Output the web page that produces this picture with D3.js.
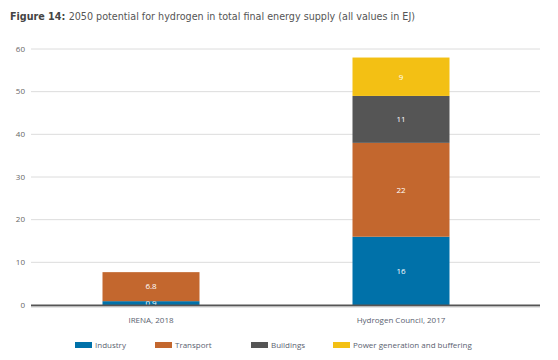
<!DOCTYPE html>
<html>
<head>
<meta charset="utf-8">
<script src="https://cdn.jsdelivr.net/npm/d3@7"></script>
<style>
  body { margin: 0; background: #fff; }
  svg { font-family: "Open Sans", Lato, sans-serif; }
</style>
</head>
<body>
<svg id="chart" width="558" height="360"></svg>
<script>
/* data */
var categories = ['IRENA, 2018', 'Hydrogen Council, 2017'];
var seriesNames = ['Industry', 'Transport', 'Buildings', 'Power generation and buffering'];
var industry = [0.9, 16];
var transport = [6.8, 22];
var buildings = [0, 11];
var power = [0, 9];
var yTicks = [0, 10, 20, 30, 40, 50, 60];

var colors = ['#0071a9', '#c3672e', '#555555', '#f3c014'];
var seriesValues = [industry, transport, buildings, power];

var svg = d3.select('#chart');

var plot = { left: 31, right: 540, top: 49, bottom: 305 };

var x = d3.scaleBand()
    .domain(categories)
    .range([26, 526])
    .paddingInner(0.612)
    .paddingOuter(0.306);

var y = d3.scaleLinear()
    .domain([0, 60])
    .range([plot.bottom, plot.top]);

// title
var title = svg.append('text')
    .attr('x', 10)
    .attr('y', 20)
    .style('font-family', '"DejaVu Sans", sans-serif')
    .style('font-size', '9.6px')
    .style('fill', '#555');
title.append('tspan').text('Figure 14: ')
    .style('font-weight', 'bold')
    .style('fill', '#444');
title.append('tspan').text('2050 potential for hydrogen in total final energy supply (all values in EJ)');

// gridlines
svg.append('g').selectAll('line')
    .data(yTicks.filter(function(d) { return d > 0; }))
    .enter().append('line')
    .attr('x1', plot.left)
    .attr('x2', plot.right)
    .attr('y1', function(d) { return y(d); })
    .attr('y2', function(d) { return y(d); })
    .style('stroke', '#dcdcdc')
    .style('stroke-width', 1);

// y labels
svg.append('g').selectAll('text')
    .data(yTicks)
    .enter().append('text')
    .attr('x', 25)
    .attr('y', function(d) { return y(d); })
    .attr('dy', '0.35em')
    .style('text-anchor', 'end')
    .style('font-size', '8px')
    .style('fill', '#666')
    .text(function(d) { return d; });

// stacked bars
var rows = categories.map(function(c, i) {
    var r = { cat: c };
    seriesNames.forEach(function(s, j) { r[s] = seriesValues[j][i]; });
    return r;
});
var stacked = d3.stack().keys(seriesNames)(rows);

var layers = svg.append('g').selectAll('g')
    .data(stacked)
    .enter().append('g')
    .style('fill', function(d, i) { return colors[i]; });

layers.selectAll('rect')
    .data(function(d) { return d; })
    .enter().append('rect')
    .attr('x', function(d) { return x(d.data.cat); })
    .attr('width', x.bandwidth())
    .attr('y', function(d) { return y(d[1]); })
    .attr('height', function(d) { return y(d[0]) - y(d[1]); });

// baseline
svg.append('line')
    .attr('x1', plot.left).attr('x2', plot.right)
    .attr('y1', y(0) + 0.5).attr('y2', y(0) + 0.5)
    .style('stroke', '#555')
    .style('stroke-width', 2);
svg.append('line')
    .attr('x1', plot.left).attr('x2', plot.right)
    .attr('y1', y(0) + 2).attr('y2', y(0) + 2)
    .style('stroke', '#ccc')
    .style('stroke-width', 1);

// value labels
layers.selectAll('text')
    .data(function(d) { return d.filter(function(p) { return p[1] - p[0] > 0; }); })
    .enter().append('text')
    .attr('x', function(d) { return x(d.data.cat) + x.bandwidth() / 2; })
    .attr('y', function(d) { return y((d[0] + d[1]) / 2); })
    .attr('dy', '0.35em')
    .style('text-anchor', 'middle')
    .style('font-size', '8px')
    .style('fill', '#fff')
    .text(function(d) { return +(d[1] - d[0]).toFixed(1); });

// category labels
svg.append('g').selectAll('text')
    .data(categories)
    .enter().append('text')
    .attr('x', function(d) { return x(d) + x.bandwidth() / 2; })
    .attr('y', 323)
    .style('text-anchor', 'middle')
    .style('font-size', '8px')
    .style('fill', '#5a6270')
    .text(function(d) { return d; });

// legend
var legendX = [75, 155, 251, 333];
var legend = svg.append('g').selectAll('g')
    .data(seriesNames)
    .enter().append('g')
    .attr('transform', function(d, i) { return 'translate(' + legendX[i] + ',342)'; });

legend.append('rect')
    .attr('width', 17)
    .attr('height', 6)
    .style('fill', function(d, i) { return colors[i]; });

legend.append('text')
    .attr('x', 20)
    .attr('y', 3)
    .attr('dy', '0.35em')
    .style('font-size', '8px')
    .style('fill', '#5a6270')
    .text(function(d) { return d; });
</script>
</body>
</html>
